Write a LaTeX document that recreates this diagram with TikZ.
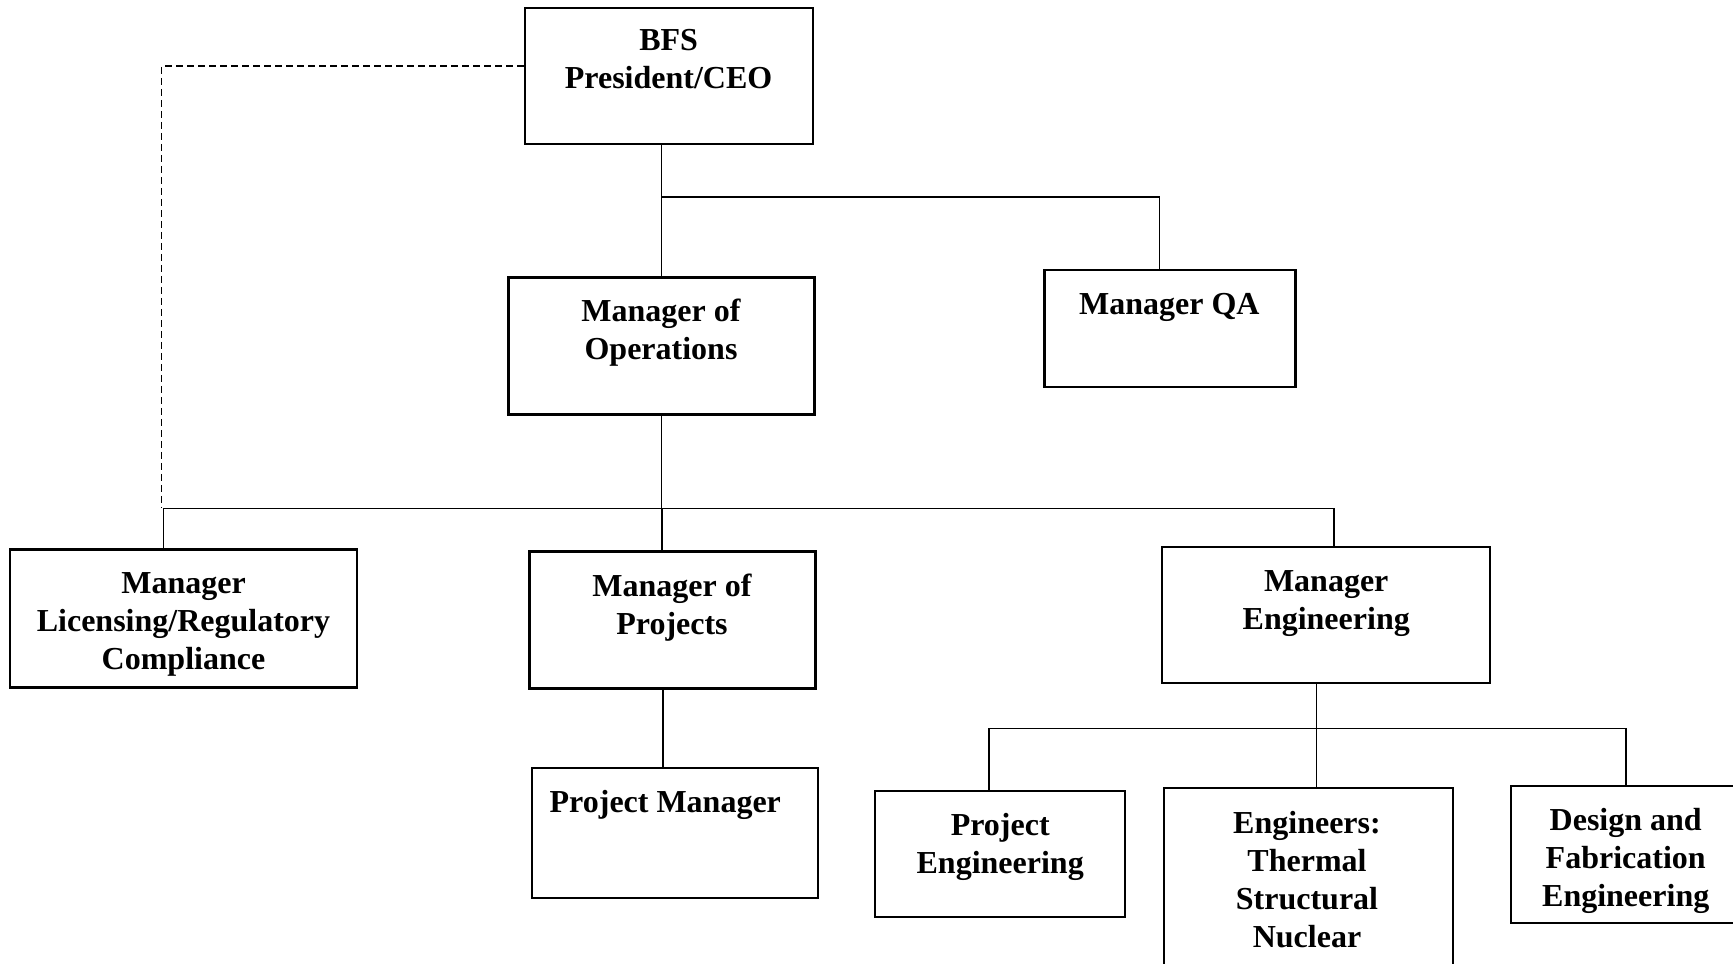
\documentclass[tikz,border=0pt]{standalone}
\usepackage{fontspec}
\setmainfont{Liberation Serif}
\begin{document}
\begin{tikzpicture}[x=0.5pt,y=-0.5pt,
  box/.style={draw, line width=1.1pt, rectangle, inner sep=0pt},
  txt/.style={align=center, inner sep=0pt, font=\bfseries\fontsize{16}{19}\selectfont},
  conn/.style={line width=0.8pt},
  dotconn/.style={line width=0.8pt, dash pattern=on 3.5pt off 2pt}]
\useasboundingbox (0,0) rectangle (1733,963);
\clip (0,0) rectangle (1733,963);
% boxes
\node[box, minimum width=144pt, minimum height=68pt] (bfs) at (669,75.7) {};
\node[box, minimum width=153pt, minimum height=68.5pt] (moo) at (661.5,345.9) {};
\node[box, minimum width=125.5pt, minimum height=58.5pt] (qa) at (1169.9,328.3) {};
\node[box, minimum width=173.5pt, minimum height=69pt] (lic) at (183.5,618.4) {};
\node[box, minimum width=143pt, minimum height=68.5pt] (mop) at (672.5,620) {};
\node[box, minimum width=164pt, minimum height=68pt] (me) at (1325.7,615) {};
\node[box, minimum width=143pt, minimum height=65pt] (pm) at (674.7,833.3) {};
\node[box, minimum width=125pt, minimum height=63pt] (pe) at (1000.2,854.3) {};
\node[box, minimum width=144.75pt, minimum height=106pt] (eng) at (1308.5,894) {};
\node[box, minimum width=124.5pt, minimum height=68.5pt] (df) at (1635.4,854.3) {};
% texts
\node[txt] (bfsT) at (668.6,58.6) {BFS\\President/CEO};
\node[txt] (mooT) at (661,332.4) {Manager of\\Operations};
\node[txt] (qaT) at (1169.3,307.2) {Manager QA};
\node[txt] (licT) at (183.5,624.6) {Manager\\Licensing/Regulatory\\Compliance};
\node[txt] (mopT) at (672,607.9) {Manager of\\Projects};
\node[txt] (meT) at (1326.2,603.4) {Manager\\Engineering};
\node[txt] (pmT) at (665.3,804.6) {Project Manager};
\node[txt] (peT) at (1000.2,847.2) {Project\\Engineering};
\node[txt] (engT) at (1307,879.2) {Engineers:\\Thermal\\Structural\\Nuclear};
\node[txt] (dfT) at (1625.7,860.9) {Design and\\Fabrication\\Engineering};
% junction coordinates
\coordinate (j1) at (661,196.7);
\coordinate (j1q) at (1159.4,196.7);
\coordinate (dl) at (161.4,66.3);
\coordinate (j2) at (661.5,508.4);
\coordinate (j2l) at (163.6,508.4);
\coordinate (j2p) at (662,508.4);
\coordinate (j2e) at (1334,508.4);
\coordinate (j3) at (1316.3,728.3);
\coordinate (j3l) at (989.2,728.3);
\coordinate (j3r) at (1625.7,728.3);
% connectors
\draw[conn] (moo.north |- bfs.south) -- (moo.north);
\draw[conn] (j1) -- (j1q) -- (j1q |- qa.north);
\draw[dotconn] ([yshift=4.7pt]bfs.west) -- (dl) -- (dl |- j2l);
\draw[conn] (moo.south) -- (j2);
\draw[conn] (j2l |- lic.north) -- (j2l) -- (j2e) -- (j2e |- me.north);
\draw[conn] (j2p) -- (j2p |- mop.north);
\draw[conn] ([xshift=-4.7pt]mop.south) -- ([xshift=-4.7pt]pm.north -| mop.south);
\draw[conn] (j3 |- me.south) -- (j3);
\draw[conn] (j3l |- pe.north) -- (j3l) -- (j3r) -- (j3r |- df.north);
\draw[conn] (j3) -- (j3 |- eng.north);
\end{tikzpicture}
\end{document}
